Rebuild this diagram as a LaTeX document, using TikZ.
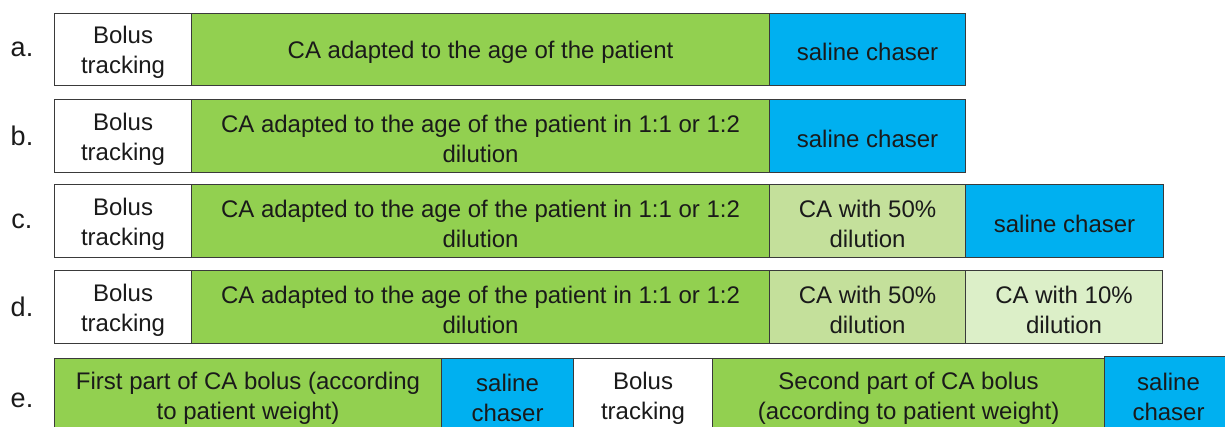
\documentclass[tikz,border=0pt]{standalone}
\usepackage{fontspec}
\setmainfont{Liberation Sans}
\definecolor{cagreen}{HTML}{92D050}
\definecolor{cablue}{HTML}{00B0F0}
\definecolor{calight}{HTML}{C4E09B}
\definecolor{calighter}{HTML}{DCEFC8}
\definecolor{edge}{HTML}{3A3A3A}
\definecolor{ink}{HTML}{1A1A1A}
\newcommand{\tstrut}{\rule{0pt}{23pt}}
\tikzset{
  cell/.style={draw=edge, line width=1.1pt, anchor=north west, inner sep=0pt,
    align=center, text=ink, font=\fontsize{24}{30}\selectfont},
  trackcell/.style={cell, fill=white},
  greencell/.style={cell, fill=cagreen},
  bluecell/.style={cell, fill=cablue},
  lgreencell/.style={cell, fill=calight},
  llgreencell/.style={cell, fill=calighter},
  rowlabel/.style={anchor=center, text=ink, font=\fontsize{27}{30}\selectfont},
}
\begin{document}
\begin{tikzpicture}[x=1pt,y=-1pt]
\path[use as bounding box, clip] (0,0) rectangle (1225,427);
\fill[color=white] (0,0) rectangle (1225,427);
% row a
\node[rowlabel] (la) at (22,49) {a.};
\node[trackcell, minimum width=137pt, minimum height=72pt] (a1) at (54,13) {\tstrut Bolus\\tracking};
\node[greencell, minimum width=578pt, minimum height=72pt] (a2) at (191,13) {\tstrut CA adapted to the age of the patient};
\node[bluecell, minimum width=196pt, minimum height=72pt] (a3) at (769,13) {\tstrut saline chaser};
% row b
\node[rowlabel] (lb) at (22,136) {b.};
\node[trackcell, minimum width=137pt, minimum height=73pt] (b1) at (54,99) {\tstrut Bolus\\tracking};
\node[greencell, minimum width=578pt, minimum height=73pt] (b2) at (191,99) {\tstrut CA adapted to the age of the patient in 1:1 or 1:2\\dilution};
\node[bluecell, minimum width=196pt, minimum height=73pt] (b3) at (769,99) {\tstrut saline chaser};
% row c
\node[rowlabel] (lc) at (22,221) {c.};
\node[trackcell, minimum width=137pt, minimum height=73pt] (c1) at (54,184) {\tstrut Bolus\\tracking};
\node[greencell, minimum width=578pt, minimum height=73pt] (c2) at (191,184) {\tstrut CA adapted to the age of the patient in 1:1 or 1:2\\dilution};
\node[lgreencell, minimum width=196pt, minimum height=73pt] (c3) at (769,184) {\tstrut CA with 50\%\\dilution};
\node[bluecell, minimum width=198pt, minimum height=73pt] (c4) at (965,184) {\tstrut saline chaser};
% row d
\node[rowlabel] (ld) at (22,307) {d.};
\node[trackcell, minimum width=137pt, minimum height=73pt] (d1) at (54,270) {\tstrut Bolus\\tracking};
\node[greencell, minimum width=578pt, minimum height=73pt] (d2) at (191,270) {\tstrut CA adapted to the age of the patient in 1:1 or 1:2\\dilution};
\node[lgreencell, minimum width=196pt, minimum height=73pt] (d3) at (769,270) {\tstrut CA with 50\%\\dilution};
\node[llgreencell, minimum width=197pt, minimum height=73pt] (d4) at (965,270) {\tstrut CA with 10\%\\dilution};
% row e
\node[rowlabel] (le) at (22,400) {e.};
\node[greencell, minimum width=387pt, minimum height=73pt] (e1) at (54,358) {\tstrut First part of CA bolus (according\\to patient weight)};
\node[bluecell, minimum width=132pt, minimum height=73pt] (e2) at (441,358) {\tstrut saline\\chaser};
\node[trackcell, minimum width=139pt, minimum height=73pt] (e3) at (573,358) {\tstrut Bolus\\tracking};
\node[greencell, minimum width=392pt, minimum height=73pt] (e4) at (712,358) {\tstrut Second part of CA bolus\\(according to patient weight)};
\node[bluecell, minimum width=128pt, minimum height=75pt] (e5) at (1104,356) {\tstrut saline\\chaser};
\end{tikzpicture}
\end{document}
